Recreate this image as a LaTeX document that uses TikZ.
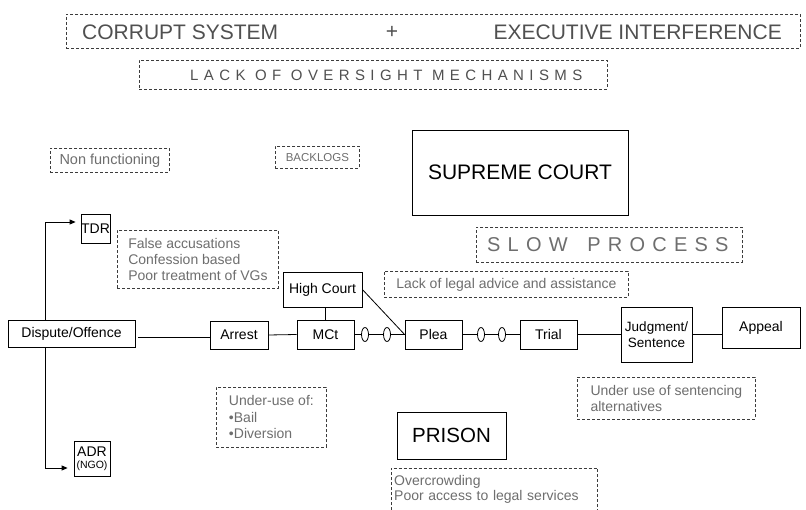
\documentclass[tikz,border=0pt]{standalone}
\usepackage{fontspec}
\setmainfont{Liberation Sans}
\newfontfamily\spacedA[LetterSpace=36]{Liberation Sans}
\newfontfamily\spacedB[LetterSpace=36]{Liberation Sans}
\usetikzlibrary{arrows.meta,shapes.geometric}
\definecolor{notegray}{HTML}{6E6E6E}
\definecolor{dashgray}{HTML}{3C3C3C}
\definecolor{headgray}{HTML}{505050}
\newcommand\fsz[2]{\fontsize{#1}{#2}\selectfont}

\begin{document}
\begin{tikzpicture}[x=1pt,y=-1pt,
  solidbox/.style={draw=black, line width=0.8pt, text=black, inner sep=0pt, align=center},
  notebox/.style={draw=dashgray, dash pattern=on 3pt off 2pt, line width=0.8pt, text=notegray, inner sep=0pt},
  noteline/.style={draw=dashgray, dash pattern=on 3pt off 2pt, line width=0.8pt},
  link/.style={draw=black, line width=0.8pt},
  arrowlink/.style={link, -{Triangle[length=6pt,width=5pt]}},
  oval/.style={draw=black, line width=0.8pt, ellipse, minimum width=7pt, minimum height=14pt, inner sep=0pt},
]
\fill[white] (0,0) rectangle (806,510);
\useasboundingbox (0,0) rectangle (806,510);

% --- headline banners ---
\node[notebox, minimum width=734pt, minimum height=34pt] (banner) at (433,31) {};
\node[text=headgray, font=\fsz{21}{24}, anchor=west, inner sep=0pt] (corrupt) at (82,32) {CORRUPT SYSTEM};
\node[text=headgray, font=\fsz{21}{24}, inner sep=0pt] (plus) at (392,32) {+};
\node[text=headgray, font=\fsz{21}{24}, anchor=east, inner sep=0pt] (exec) at (782,32) {EXECUTIVE INTERFERENCE};

\node[notebox, minimum width=468pt, minimum height=29pt] (oversight) at (373,74.5) {};
\node[text=headgray, font=\spacedA\fsz{15}{17}, anchor=west, inner sep=0pt] (lack) at (190,75) {LACK OF OVERSIGHT MECHANISMS};

% --- small dashed notes ---
\node[notebox, anchor=north west, minimum width=119pt, minimum height=24pt, font=\fsz{14.5}{16}] (nonfun) at (50,148) {Non functioning};
\node[notebox, anchor=north west, minimum width=84pt, minimum height=22pt, font=\fsz{11.5}{13}] (backlogs) at (275,146) {BACKLOGS};
\node[notebox, anchor=north west, minimum width=266pt, minimum height=35pt] (slowbox) at (476,227) {};
\node[text=notegray, font=\spacedB\fsz{20}{22}, anchor=west, inner sep=0pt] (slow) at (487,245) {SLOW\hspace{7pt} PROCESS};
\node[notebox, anchor=north west, minimum width=244pt, minimum height=26pt, font=\fsz{14}{16}] (legal) at (384,271) {Lack of legal advice and assistance};

\node[notebox, anchor=north west, minimum width=161pt, minimum height=58pt, align=left, font=\fsz{14}{16}] (accuse) at (117,230)
  {False accusations\\Confession based\\Poor treatment of VGs};
\node[notebox, anchor=north west, minimum width=110pt, minimum height=60pt, align=left, font=\fsz{14}{16.5}] (underuse) at (216,387)
  {Under-use of:\\\textbullet Bail\\\textbullet Diversion};
\node[notebox, anchor=north west, minimum width=178pt, minimum height=42pt, align=left, font=\fsz{14}{15.5}] (altern) at (577,377)
  {Under use of sentencing\\alternatives};
\node[text=notegray, anchor=north west, minimum height=42pt, text width=200pt, inner xsep=3pt, inner ysep=0pt, align=left, font=\fsz{14}{15.5}] (prisonnote) at (391,468)
  {Overcrowding\\Poor access to legal services};
\draw[noteline] (prisonnote.south west) |- (prisonnote.north east) -- (prisonnote.south east);

% --- courts and prison ---
\node[solidbox, minimum width=216pt, minimum height=85pt, font=\fsz{21}{24}] (supreme) at (520,172.5) {SUPREME COURT};
\node[solidbox, minimum width=109pt, minimum height=47pt, font=\fsz{20.5}{23}] (prison) at (451.5,435.5) {PRISON};
\node[solidbox, minimum width=79pt, minimum height=35pt, font=\fsz{14}{16}] (high) at (322.5,289.5) {High Court};

% --- process chain ---
\node[solidbox, minimum width=127pt, minimum height=27pt, font=\fsz{14}{16}] (dispute) at (71.5,333.5) {Dispute/Offence};
\node[solidbox, minimum width=58pt, minimum height=28pt, font=\fsz{14}{16}] (arrest) at (239,335) {Arrest};
\node[solidbox, minimum width=57pt, minimum height=29pt, font=\fsz{14}{16}] (mct) at (325.5,334.5) {MCt};
\node[solidbox, minimum width=57pt, minimum height=29pt, font=\fsz{14}{16}] (plea) at (433.5,334.5) {Plea};
\node[solidbox, minimum width=57pt, minimum height=29pt, font=\fsz{14}{16}] (trial) at (548.5,334.5) {Trial};
\node[solidbox, minimum width=71pt, minimum height=55pt, font=\fsz{13.5}{16}] (judg) at (656.5,334.5) {Judgment/\\Sentence};
\node[solidbox, minimum width=78pt, minimum height=41pt, font=\fsz{14}{16}] (appeal) at (761,327.5) {Appeal};

\node[oval] (o1) at (365,334.5) {};
\node[oval] (o2) at (387,334.5) {};
\node[oval] (o3) at (481,334.5) {};
\node[oval] (o4) at (502,334.5) {};

% --- alternative routes ---
\node[solidbox, minimum width=29pt, minimum height=29pt, font=\fsz{14}{15}] (tdr) at (95.5,228.5) {TDR};
\node[solidbox, minimum width=36pt, minimum height=35pt, font=\fsz{14}{13}] (adr) at (92,458.5) {ADR\\[-1pt]{\fsz{10.5}{11}(NGO)}};

% --- connectors ---
\path (dispute.east |- 0,337.5) ++(3,0) coordinate (dstart);
\draw[link] (dstart) -- (dstart -| arrest.west);
\draw[link] (arrest.east) -- (mct.west);
\draw[link] (mct.east) -- (o1) -- (o2) -- (plea.west);
\draw[link] (plea.east) -- (o3) -- (o4) -- (trial.west);
\draw[link] (trial.east) -- (judg.west);
\draw[link] (judg.east) -- (judg.east -| appeal.west);
\draw[link] (mct.north |- high.south) -- (mct.north);
\draw[link] (high.east) -- (plea.west);

\draw[arrowlink] ([xshift=-26.5pt]dispute.north) |- ([xshift=-5pt,yshift=6.5pt]tdr.west);
\draw[arrowlink] ([xshift=-26.5pt]dispute.south) |- ([xshift=-6pt,yshift=-9.5pt]adr.west);
\end{tikzpicture}
\end{document}
